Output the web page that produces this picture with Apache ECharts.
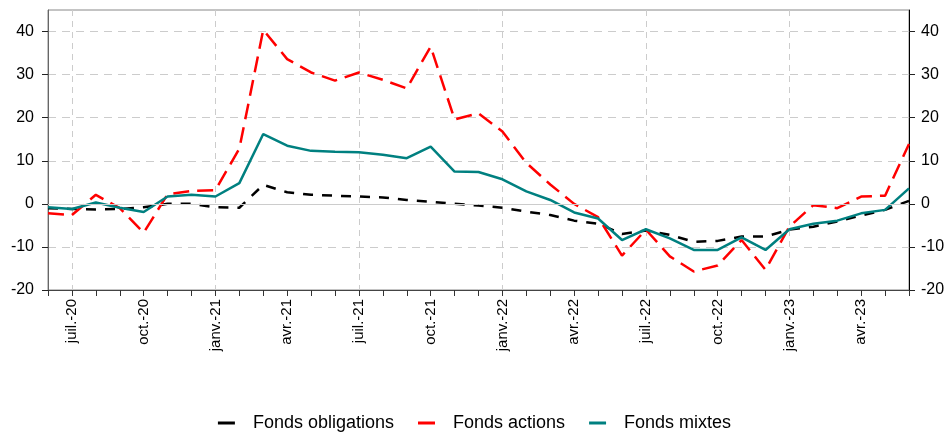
<!DOCTYPE html>
<html><head><meta charset="utf-8">
<script src="https://cdn.jsdelivr.net/npm/echarts@6/dist/echarts.min.js"></script>
<style>html,body{margin:0;padding:0;background:#fff}#c{width:949px;height:432px}</style>
</head><body><div id="c"></div>
<script>
const months = ["juin-20","juil.-20","août-20","sept.-20","oct.-20","nov.-20","déc.-20",
  "janv.-21","févr.-21","mars-21","avr.-21","mai-21","juin-21","juil.-21","août-21","sept.-21","oct.-21","nov.-21","déc.-21",
  "janv.-22","févr.-22","mars-22","avr.-22","mai-22","juin-22","juil.-22","août-22","sept.-22","oct.-22","nov.-22","déc.-22",
  "janv.-23","févr.-23","mars-23","avr.-23","mai-23","juin-23"];
const obligations = [-1.0,-1.2,-1.3,-1.2,-0.8,0.0,0.0,-0.8,-0.9,4.4,2.7,2.1,1.9,1.7,1.5,0.9,0.5,0.0,-0.4,-0.9,-1.8,-2.6,-3.9,-4.6,-7.0,-6.2,-7.2,-8.8,-8.6,-7.6,-7.6,-6.0,-5.3,-4.1,-2.7,-1.4,0.7];
const actions = [-2.2,-2.6,2.1,-1.0,-6.7,2.2,3.0,3.2,12.8,40.4,33.6,30.5,28.6,30.5,28.8,26.8,36.5,19.6,21.0,16.8,9.5,4.5,0.0,-3.1,-12.0,-6.0,-12.2,-15.7,-14.3,-8.4,-15.3,-5.3,-0.3,-1.0,1.7,1.9,13.9];
const mixtes = [-0.8,-1.2,0.3,-0.9,-1.9,1.7,2.1,1.7,4.8,16.2,13.5,12.3,12.1,12.0,11.4,10.6,13.3,7.5,7.4,5.7,2.9,0.9,-2.0,-3.4,-8.4,-5.9,-8.0,-10.7,-10.7,-7.8,-10.7,-5.9,-4.6,-3.9,-2.2,-1.4,3.6];
const yTicks = [-20,-10,0,10,20,30,40];
const names = ["Fonds obligations","Fonds actions","Fonds mixtes"];
const colors = ['#000000','#ff0000','#008080'];

const font = "'Liberation Sans', Arial, sans-serif";
const chart = echarts.init(document.getElementById('c'), null, {renderer:'canvas'});
const yAxisBase = {
  type:'value', min:-20, max:45, interval:10,
  axisTick:{customValues:yTicks, show:true, inside:false, length:6, lineStyle:{color:'#222'}},
};
chart.setOption({
  animation:false,
  textStyle:{fontFamily:font},
  grid:{left:48, right:40, top:10, bottom:142, show:true, borderColor:'#888', borderWidth:1, outerBoundsMode:'none'},
  legend:{
    data:names.map((n,i)=>({name:n, icon:'rect', itemStyle:{color:colors[i], borderWidth:0, borderColor:'transparent'}})),
    top:409, left:'center', itemWidth:17, itemHeight:3, itemGap:24,
    itemStyle:{borderWidth:0, borderColor:'transparent'}, lineStyle:{width:0, type:'solid'},
    textStyle:{fontSize:18, color:'#000', fontFamily:font, padding:[0,0,0,13]}
  },
  xAxis:{
    type:'category', data:months, boundaryGap:false,
    axisLine:{onZero:false, lineStyle:{color:'#444', width:1}},
    axisTick:{show:true, interval:0, length:6, lineStyle:{color:'#333'}},
    axisLabel:{interval:(i)=>i%3===1, rotate:90, fontSize:15, color:'#000', fontFamily:font, margin:9},
    splitLine:{show:true, interval:(i)=>i%6===1, lineStyle:{color:'#ccc', type:[6,5], width:1}}
  },
  yAxis:[
    Object.assign({}, yAxisBase, {position:'left', axisLine:{show:true, onZero:false, lineStyle:{color:'#666'}},
      axisLabel:{customValues:yTicks, fontSize:16, color:'#000', fontFamily:font, margin:14},
      splitLine:{show:true, lineStyle:{color:'#ccc', type:[8,6], width:1}}}),
    Object.assign({}, yAxisBase, {position:'right', axisLine:{show:true, onZero:false, lineStyle:{color:'#000'}},
      axisLabel:{customValues:yTicks, fontSize:16, color:'#000', fontFamily:font, margin:12},
      splitLine:{show:false}})
  ],
  series:[
    {type:'line', name:'_zero', data:[], silent:true, markLine:{silent:true, symbol:'none', label:{show:false},
      lineStyle:{color:'#ccc', type:'solid', width:1}, data:[{yAxis:0}]}},
    {type:'line', name:names[0], data:obligations, showSymbol:false, color:colors[0],
      lineStyle:{color:colors[0], width:2.5, type:[10,9]}},
    {type:'line', name:names[1], data:actions, showSymbol:false, color:colors[1],
      lineStyle:{color:colors[1], width:2.5, type:[16,8]}},
    {type:'line', name:names[2], data:mixtes, showSymbol:false, color:colors[2],
      lineStyle:{color:colors[2], width:2.5, type:'solid'}}
  ]
});
</script></body></html>
